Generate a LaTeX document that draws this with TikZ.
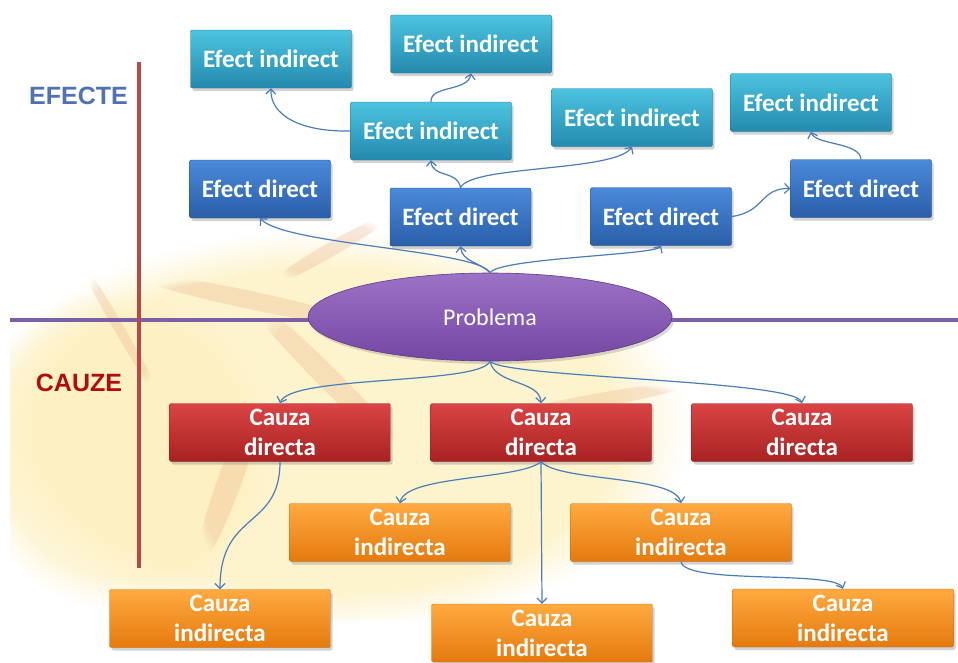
\documentclass[tikz,border=0pt]{standalone}
\usepackage{fontspec}
\setmainfont{Carlito}
\newfontfamily\arialfont{Liberation Sans}
\usetikzlibrary{arrows.meta,shadows,shapes.geometric,fadings}
\definecolor{eiTop}{HTML}{4CC4E0}
\definecolor{eiBot}{HTML}{2489AE}
\definecolor{edTop}{HTML}{4A8ADA}
\definecolor{edBot}{HTML}{2A5EA8}
\definecolor{cdTop}{HTML}{DA4444}
\definecolor{cdBot}{HTML}{A82222}
\definecolor{ciTop}{HTML}{FFAA40}
\definecolor{ciBot}{HTML}{E57A0E}
\definecolor{prTop}{HTML}{9C72C6}
\definecolor{prBot}{HTML}{7447A2}
\definecolor{connC}{HTML}{4A7EBB}
\definecolor{hlineC}{HTML}{7B5FA8}
\definecolor{vlineC}{HTML}{B84848}
\definecolor{efecteC}{HTML}{4F72B6}
\definecolor{cauzeC}{HTML}{B00E0E}
\definecolor{glowC}{HTML}{FDEFB8}
\definecolor{strokeC}{HTML}{E3A478}
\begin{document}
\begin{tikzpicture}[x=1pt,y=-1pt,
  box/.style={rectangle, rounded corners=2pt, minimum height=58pt, inner sep=0pt,
    align=center, text=white, font=\fontsize{25}{30}\selectfont\bfseries,
    drop shadow={shadow xshift=2pt,shadow yshift=-3pt,opacity=0.35}},
  effind/.style={box, minimum width=161pt, top color=eiTop, bottom color=eiBot, draw=eiBot!85!black, line width=0.4pt},
  effdir/.style={box, minimum width=141pt, top color=edTop, bottom color=edBot, draw=edBot!85!black, line width=0.4pt},
  causedir/.style={box, minimum width=221pt, top color=cdTop, bottom color=cdBot, draw=cdBot!85!black, line width=0.4pt},
  causeind/.style={box, minimum width=221pt, top color=ciTop, bottom color=ciBot, draw=ciBot!85!black, line width=0.4pt},
  problem/.style={ellipse, minimum width=364pt, minimum height=88pt, inner sep=0pt,
    top color=prTop, bottom color=prBot, draw=prBot!80!black, line width=0.6pt,
    text=white, font=\fontsize{24}{28}\selectfont,
    drop shadow={shadow xshift=2pt,shadow yshift=-3pt,opacity=0.3}},
  sidelabel/.style={font=\arialfont\fontsize{25}{28}\selectfont\bfseries, inner sep=0pt},
  conn/.style={draw=connC, line width=1.2pt, -{Straight Barb[length=5pt,width=10pt]}},
  deco/.style={fill=strokeC, fill opacity=0.25, path fading=circle with fuzzy edge 20 percent}
]
\useasboundingbox (0,0) rectangle (958,662);
\fill[white] (0,0) rectangle (958,662);

% background decoration
\begin{scope}
\clip (10,170) rectangle (958,620);
\fill[glowC, fill opacity=0.7, path fading=circle with fuzzy edge 20 percent] (330,430) ellipse [x radius=360, y radius=200];
\fill[glowC, fill opacity=0.5, path fading=circle with fuzzy edge 20 percent] (120,450) ellipse [x radius=150, y radius=160];
\fill[deco, rotate around={-12:(250,300)}] (250,300) ellipse [x radius=120, y radius=9];
\fill[deco, rotate around={-45:(330,380)}] (330,380) ellipse [x radius=120, y radius=11];
\fill[deco, rotate around={30:(330,250)}] (330,250) ellipse [x radius=70, y radius=7];
\fill[deco, rotate around={70:(230,480)}] (230,480) ellipse [x radius=90, y radius=12];
\fill[deco, rotate around={-60:(120,330)}] (120,330) ellipse [x radius=80, y radius=5];
\fill[deco, rotate around={10:(600,400)}] (600,400) ellipse [x radius=90, y radius=7];
\end{scope}

% axes
\draw[hlineC, line width=4pt] (10,320) -- (958,320);
\draw[vlineC, line width=4pt] (138.5,62) -- (138.5,568);

% labels
\node[sidelabel, text=efecteC] (efecte) at (78.5,96) {EFECTE};
\node[sidelabel, text=cauzeC] (cauze) at (79,382.5) {CAUZE};

% problem
\node[problem] (P) at (490,317) {Problema};

% effects
\node[effind] (EI1) at (271,59) {Efect indirect};
\node[effind] (EI2) at (471,44) {Efect indirect};
\node[effind] (EI3) at (431,131) {Efect indirect};
\node[effind] (EI4) at (632,117.5) {Efect indirect};
\node[effind] (EI5) at (811,102.5) {Efect indirect};
\node[effdir] (ED1) at (260,189) {Efect direct};
\node[effdir] (ED2) at (460.5,217) {Efect direct};
\node[effdir] (ED3) at (661,216.5) {Efect direct};
\node[effdir] (ED4) at (861,188.5) {Efect direct};

% causes
\node[causedir] (CD1) at (280,432.5) {Cauza\\directa};
\node[causedir] (CD2) at (541,432.5) {Cauza\\directa};
\node[causedir] (CD3) at (802,432.5) {Cauza\\directa};
\node[causeind] (CI1) at (400,532.5) {Cauza\\indirecta};
\node[causeind] (CI2) at (681,532.5) {Cauza\\indirecta};
\node[causeind] (CI3) at (220,618.5) {Cauza\\indirecta};
\node[causeind] (CI4) at (542,633) {Cauza\\indirecta};
\node[causeind] (CI5) at (843,618) {Cauza\\indirecta};

% connectors: effects
\draw[conn] (P.north) .. controls (478,250) and (285,245) .. (ED1.south);
\draw[conn] (P.north) .. controls (480,262) and (462,262) .. (ED2.south);
\draw[conn] (P.north) .. controls (500,258) and (655,255) .. (ED3.south);
\draw[conn] (ED2.north) .. controls (458,170) and (432,178) .. (EI3.south);
\draw[conn] (ED2.north) .. controls (470,165) and (615,172) .. (EI4.south);
\draw[conn] (EI3.west) .. controls (300,132) and (270,115) .. (EI1.south);
\draw[conn] (EI3.north) .. controls (430,85) and (468,92) .. (EI2.south);
\draw[conn] (ED3.east) .. controls (765,212) and (760,188) .. (ED4.west);
\draw[conn] (ED4.north) .. controls (860,142) and (815,145) .. (EI5.south);

% connectors: causes
\draw[conn] (P.south) .. controls (480,385) and (290,375) .. (CD1.north);
\draw[conn] (P.south) .. controls (495,385) and (540,380) .. (CD2.north);
\draw[conn] (P.south) .. controls (505,378) and (795,380) .. (CD3.north);
\draw[conn] (CD1.south) .. controls (280,530) and (220,510) .. (CI3.north);
\draw[conn] (CD2.south) .. controls (520,480) and (405,475) .. (CI1.north);
\draw[conn] (CD2.south) -- (CI4.north);
\draw[conn] (CD2.south) .. controls (560,482) and (675,475) .. (CI2.north);
\draw[conn] (CI2.south) .. controls (685,585) and (835,570) .. (CI5.north);
\end{tikzpicture}
\end{document}
